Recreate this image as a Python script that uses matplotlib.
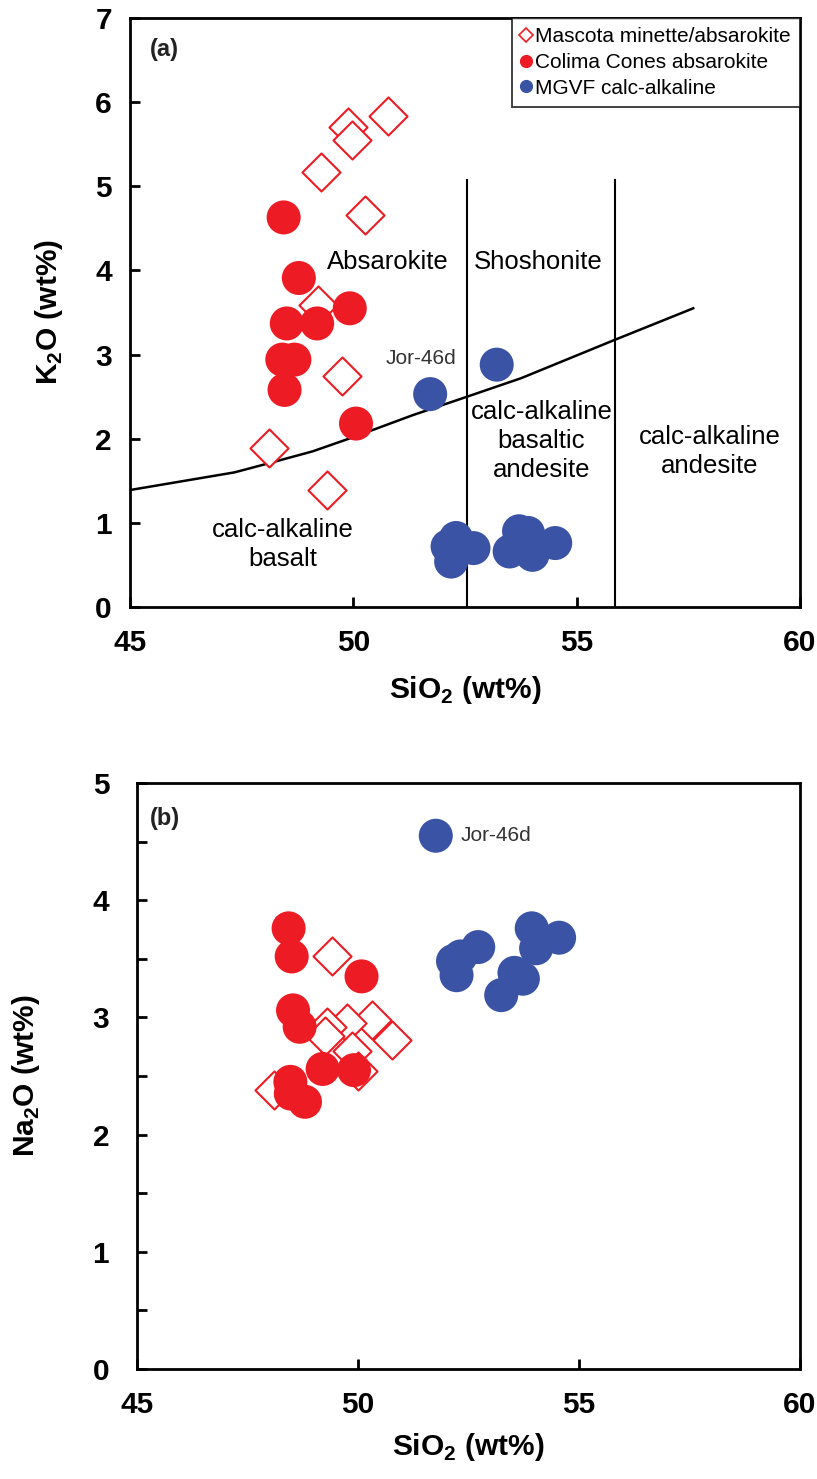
import numpy as np
import matplotlib
matplotlib.use("Agg")
import matplotlib.pyplot as plt
from matplotlib.lines import Line2D

# ---------------------------------------------------------
# fonts
# ---------------------------------------------------------
plt.rcParams['font.family'] = ['Liberation Sans', 'DejaVu Sans']
plt.rcParams['mathtext.fontset'] = 'custom'
plt.rcParams['mathtext.rm'] = 'Liberation Sans'
plt.rcParams['mathtext.bf'] = 'Liberation Sans:bold'

RED = '#ED1C24'
BLUE = '#3A53A4'

# ---------------------------------------------------------
# (a) K2O vs SiO2
# ---------------------------------------------------------
masc_si_a = [49.87, 49.97, 50.77, 49.27, 50.26, 49.21, 49.74, 48.12, 49.40]
masc_k_a = [5.71, 5.55, 5.84, 5.17, 4.66, 3.59, 2.75, 1.89, 1.39]

col_si_a = [48.44, 48.78, 49.92, 48.51, 49.19, 48.41, 48.68, 48.46, 50.06]
col_k_a = [4.63, 3.91, 3.55, 3.37, 3.37, 2.94, 2.94, 2.58, 2.18]

mgvf_si_a = [51.72, 53.21, 52.11, 52.30, 52.19, 52.69, 53.71, 53.91, 53.50, 54.01, 54.52]
mgvf_k_a = [2.53, 2.88, 0.72, 0.82, 0.54, 0.70, 0.90, 0.88, 0.66, 0.62, 0.76]

# calc-alkaline / high-K boundary
bound_si = [45.0, 47.34, 48.12, 49.09, 50.06, 51.33, 52.55, 53.76, 55.83, 57.61]
bound_k = [1.39, 1.60, 1.71, 1.85, 2.03, 2.28, 2.50, 2.72, 3.17, 3.55]

# vertical field dividers
div_si = [52.55, 55.85]
div_top = 5.07

# ---------------------------------------------------------
# (b) Na2O vs SiO2
# ---------------------------------------------------------
masc_si_b = [49.42, 50.31, 49.76, 49.29, 50.77, 49.26, 49.87, 50.00, 48.11]
masc_na_b = [3.52, 2.98, 2.95, 2.92, 2.81, 2.84, 2.71, 2.54, 2.38]

col_si_b = [48.43, 48.50, 50.08, 48.53, 48.68, 49.20, 49.91, 48.47, 48.48, 48.80]
col_na_b = [3.76, 3.52, 3.35, 3.06, 2.92, 2.56, 2.55, 2.45, 2.35, 2.28]

mgvf_si_b = [51.76, 53.93, 54.55, 54.03, 52.72, 52.32, 52.15, 52.23, 53.54, 53.73, 53.24]
mgvf_na_b = [4.55, 3.76, 3.68, 3.59, 3.60, 3.52, 3.48, 3.36, 3.38, 3.33, 3.19]

labels = ['Mascota minette/absarokite', 'Colima Cones absarokite', 'MGVF calc-alkaline']

S_CIRC = 600
S_DIAM = 376

fig = plt.figure(figsize=(8.17, 14.79), dpi=100)
W, H = 817, 1479

ax1 = fig.add_axes([130 / W, 1 - 607 / H, 670 / W, 589 / H])
ax2 = fig.add_axes([137 / W, 1 - 1369 / H, 663 / W, 586 / H])


def estilo(ax, ymax, pad_y):
    ax.set_xlim(45, 60)
    ax.set_ylim(0, ymax)
    ax.set_xticks([45, 50, 55, 60])
    for s in ax.spines.values():
        s.set_linewidth(2.0)
    ax.tick_params(direction='in', length=7, width=2.0, top=False, right=False,
                   labelsize=21.5)
    ax.tick_params(axis='y', pad=pad_y)
    ax.tick_params(axis='x', pad=16)
    for t in ax.get_xticklabels() + ax.get_yticklabels():
        t.set_fontweight('bold')


def puntos(ax, ms, my, cs, cy, bs, by):
    ax.scatter(ms, my, s=S_DIAM, marker='D', facecolors='white', edgecolors=RED,
               linewidths=1.5, zorder=3)
    ax.scatter(cs, cy, s=S_CIRC, marker='o', color=RED, edgecolors='none', zorder=4)
    ax.scatter(bs, by, s=S_CIRC, marker='o', color=BLUE, edgecolors='none', zorder=5)


# ---------------- panel (a) ----------------
estilo(ax1, 7, 13)
ax1.set_yticks(range(0, 8))
ax1.plot(bound_si, bound_k, color='black', lw=1.8, zorder=2)
for xv in div_si:
    ax1.plot([xv, xv], [0, div_top], color='black', lw=1.5, zorder=2)
puntos(ax1, masc_si_a, masc_k_a, col_si_a, col_k_a, mgvf_si_a, mgvf_k_a)

fs_campo = 18.5
ax1.text(50.78, 4.10, 'Absarokite', fontsize=fs_campo, ha='center', va='center')
ax1.text(54.14, 4.10, 'Shoshonite', fontsize=fs_campo, ha='center', va='center')
ax1.text(54.21, 1.97, 'calc-alkaline\nbasaltic\nandesite', fontsize=fs_campo,
         ha='center', va='center', linespacing=1.25)
ax1.text(57.97, 1.85, 'calc-alkaline\nandesite', fontsize=fs_campo,
         ha='center', va='center', linespacing=1.25)
ax1.text(48.42, 0.74, 'calc-alkaline\nbasalt', fontsize=fs_campo,
         ha='center', va='center', linespacing=1.25)
ax1.text(51.52, 2.95, 'Jor-46d', fontsize=15, ha='center', va='center', color='#333333')
ax1.text(0.029, 0.946, '(a)', transform=ax1.transAxes, fontsize=17, fontweight='bold',
         ha='left', va='center', color='#222222')

ax1.set_xlabel(r'SiO$_\mathbf{2}$ (wt%)', fontsize=21.5, fontweight='bold')
ax1.set_ylabel(r'K$_\mathbf{2}$O (wt%)', fontsize=21.5, fontweight='bold')
ax1.xaxis.set_label_coords(0.5, -0.141)
ax1.xaxis.label.set_va('center')
ax1.yaxis.set_label_coords(-0.121, 0.5)
ax1.yaxis.label.set_va('center')

handles = [
    Line2D([], [], ls='none', marker='D', markersize=7, markerfacecolor='white',
           markeredgecolor=RED, markeredgewidth=1.2),
    Line2D([], [], ls='none', marker='o', markersize=8.5, color=RED),
    Line2D([], [], ls='none', marker='o', markersize=8.5, color=BLUE),
]
leg = ax1.legend(handles, labels, loc='upper right', fontsize=15, frameon=True,
                 fancybox=False, borderaxespad=0, borderpad=0.45, handlelength=0.45,
                 handletextpad=0.2, labelspacing=0.32)
leg.get_frame().set_edgecolor('black')
leg.get_frame().set_linewidth(1.3)
leg.set_zorder(6)

# ---------------- panel (b) ----------------
estilo(ax2, 5, 20)
ax2.set_yticks(range(0, 6))
ax2.set_yticks(np.arange(0.5, 5, 1.0), minor=True)
ax2.tick_params(axis='y', which='minor', direction='in', length=7, width=2.0)
puntos(ax2, masc_si_b, masc_na_b, col_si_b, col_na_b, mgvf_si_b, mgvf_na_b)

ax2.text(52.32, 4.55, 'Jor-46d', fontsize=15, ha='left', va='center', color='#333333')
ax2.text(0.0196, 0.940, '(b)', transform=ax2.transAxes, fontsize=17, fontweight='bold',
         ha='left', va='center', color='#222222')

ax2.set_xlabel(r'SiO$_\mathbf{2}$ (wt%)', fontsize=21.5, fontweight='bold')
ax2.set_ylabel(r'Na$_\mathbf{2}$O (wt%)', fontsize=21.5, fontweight='bold')
ax2.xaxis.set_label_coords(0.5, -0.133)
ax2.xaxis.label.set_va('center')
ax2.yaxis.set_label_coords(-0.167, 0.5)
ax2.yaxis.label.set_va('center')

fig.savefig('out.png', dpi=100)
